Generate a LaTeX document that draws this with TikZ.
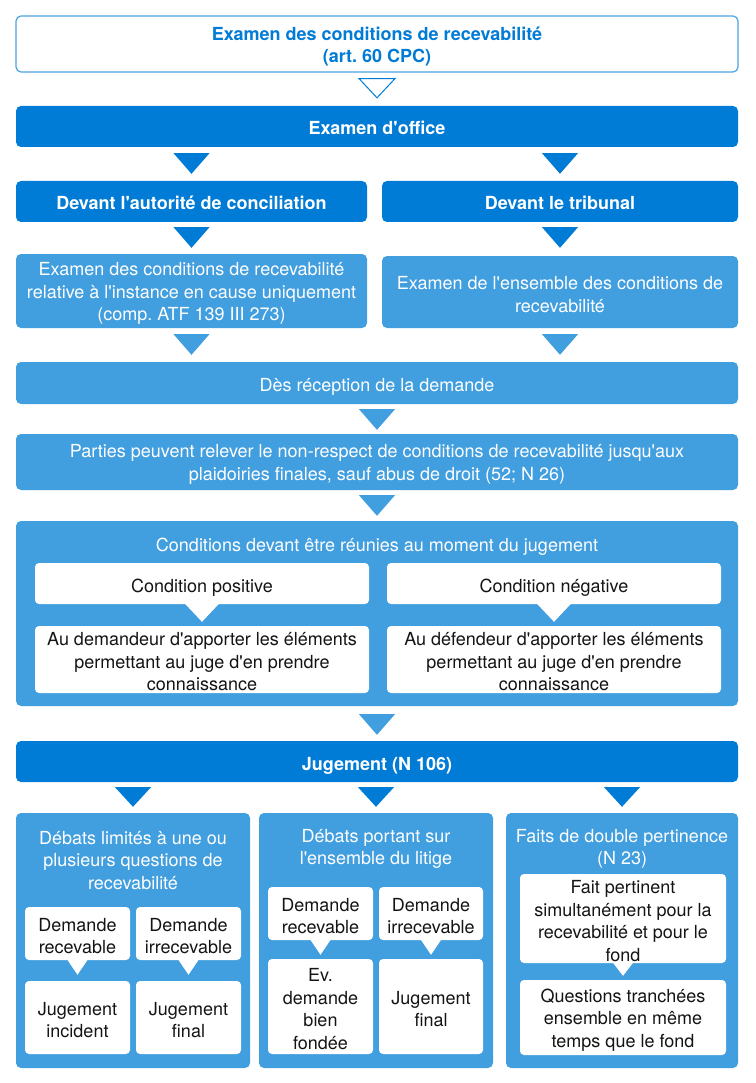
\documentclass[tikz,border=0pt]{standalone}
\usepackage{fontspec}
\setmainfont{TeX Gyre Heros}[Ligatures=TeXOff]
\frenchspacing
\usetikzlibrary{calc}
\definecolor{dkblue}{RGB}{0,123,214}
\definecolor{ltblue}{RGB}{65,158,223}
\definecolor{bdblue}{RGB}{74,163,227}
\definecolor{txtblk}{RGB}{20,20,20}
% style, A, B, X, half width, gap below A, gap above B
\newcommand\dtri[7]{%
  \path[#1] ($(#4.center |- #2.south)+(-#5,#6)$) -- ($(#4.center |- #2.south)+(#5,#6)$) -- ($(#4.center |- #3.north)+(0,-#7)$) -- cycle;}
\begin{document}
\begin{tikzpicture}[x=1pt,y=-1pt,
  box/.style={rounded corners=5pt, inner sep=0pt, align=center, text depth=-4.5pt, execute at begin node={\rule{0pt}{17pt}}, font=\fontsize{18}{22.5}\selectfont},
  topbox/.style={box, fill=white, draw=bdblue, line width=1.2pt, text=dkblue, font=\fontsize{18}{22.5}\selectfont\bfseries},
  dark/.style={box, fill=dkblue, text=white, font=\fontsize{18}{22.5}\selectfont\bfseries},
  light/.style={box, fill=ltblue, text=white},
  wbox/.style={box, fill=white, text=txtblk, rounded corners=4pt},
  lab/.style={inner sep=0pt, align=center, yshift=-2.5pt, font=\fontsize{18}{22.5}\selectfont},
  tlab/.style={lab, text=dkblue, font=\fontsize{18}{22.5}\selectfont\bfseries},
  llab/.style={lab, text=white},
  wlab/.style={lab, text=txtblk},
  ttl/.style={inner sep=0pt, align=center, text=white, font=\fontsize{18}{22.5}\selectfont},
  opentri/.style={fill=white, draw=dkblue, line width=1pt, line join=miter},
  darktri/.style={fill=dkblue},
  lighttri/.style={fill=ltblue},
  whitetri/.style={fill=white}]
\useasboundingbox (0,0) rectangle (755,1083);

\node[topbox, minimum width=722, minimum height=56, label={[tlab]center:{Examen des conditions de recevabilité\\(art. 60 CPC)}}] (top) at (377,44) {};
\node[dark, minimum width=722, minimum height=41] (office) at (377,126.5) {Examen d'office};
\node[dark, minimum width=351, minimum height=41] (conc) at (191.5,201.5) {Devant l'autorité de conciliation};
\node[dark, minimum width=356, minimum height=41] (trib) at (560,201.5) {Devant le tribunal};
\node[light, minimum width=351, minimum height=74, label={[llab]center:{Examen des conditions de recevabilité\\relative à l'instance en cause uniquement\\(comp. ATF 139 III 273)}}] (exA) at (191.5,291) {};
\node[light, minimum width=356, minimum height=72, label={[llab]center:{Examen de l'ensemble des conditions de\\recevabilité}}] (exB) at (560,292) {};
\node[light, minimum width=722, minimum height=42] (des) at (377,383) {Dès réception de la demande};
\node[light, minimum width=722, minimum height=56, label={[llab]center:{Parties peuvent relever le non-respect de conditions de recevabilité jusqu'aux\\plaidoiries finales, sauf abus de droit (52; N 26)}}] (parties) at (377,462) {};
\node[light, minimum width=722, minimum height=185] (cond) at (377,613.5) {};
\node[ttl] (condttl) at (377,546.5) {Conditions devant être réunies au moment du jugement};
\node[wbox, minimum width=334, minimum height=41] (pos) at (202,583.5) {Condition positive};
\node[wbox, minimum width=334, minimum height=41] (neg) at (554,583.5) {Condition négative};
\node[wbox, minimum width=334, minimum height=67, label={[wlab]center:{Au demandeur d'apporter les éléments\\permettant au juge d'en prendre\\connaissance}}] (posT) at (202,659.5) {};
\node[wbox, minimum width=334, minimum height=67, label={[wlab]center:{Au défendeur d'apporter les éléments\\permettant au juge d'en prendre\\connaissance}}] (negT) at (554,659.5) {};
\node[dark, minimum width=722, minimum height=41] (jug) at (377,761.5) {Jugement (N 106)};

\node[light, minimum width=234, minimum height=255] (b1) at (133,940.5) {};
\node[light, minimum width=234, minimum height=255] (b2) at (376,940.5) {};
\node[light, minimum width=232, minimum height=255] (b3) at (622,940.5) {};
\node[ttl] (b1ttl) at (133,860.5) {Débats limités à une ou\\plusieurs questions de\\recevabilité};
\node[ttl] (b2ttl) at (376,849) {Débats portant sur\\l'ensemble du litige};
\node[ttl] (b3ttl) at (622,849) {Faits de double pertinence\\(N 23)};

\node[wbox, minimum width=105, minimum height=53, label={[wlab]center:{Demande\\recevable}}] (r1) at (77.5,933.5) {};
\node[wbox, minimum width=105, minimum height=53, label={[wlab]center:{Demande\\irrecevable}}] (i1) at (188.5,933.5) {};
\node[wbox, minimum width=105, minimum height=73, label={[wlab]center:{Jugement\\incident}}] (j1) at (77.5,1017.5) {};
\node[wbox, minimum width=105, minimum height=73, label={[wlab]center:{Jugement\\final}}] (f1) at (188.5,1017.5) {};
\node[wbox, minimum width=105, minimum height=53, label={[wlab]center:{Demande\\recevable}}] (r2) at (320.5,913.5) {};
\node[wbox, minimum width=104, minimum height=53, label={[wlab]center:{Demande\\irrecevable}}] (i2) at (431,913.5) {};
\node[wbox, minimum width=105, minimum height=95, label={[wlab]center:{Ev.\\demande\\bien\\fondée}}] (e2) at (320.5,1006.5) {};
\node[wbox, minimum width=104, minimum height=95, label={[wlab]center:{Jugement\\final}}] (f2) at (431,1006.5) {};
\node[wbox, minimum width=206, minimum height=89, label={[wlab]center:{Fait pertinent\\simultanément pour la\\recevabilité et pour le\\fond}}] (p3) at (623,918.5) {};
\node[wbox, minimum width=206, minimum height=75, label={[wlab]center:{Questions tranchées\\ensemble en même\\temps que le fond}}] (q3) at (623,1017.5) {};

\dtri{opentri}{top}{office}{top}{18}{6}{8}
\dtri{darktri}{office}{conc}{conc}{18}{6}{7}
\dtri{darktri}{office}{trib}{trib}{18}{6}{7}
\dtri{darktri}{conc}{exA}{conc}{18}{5}{6}
\dtri{darktri}{trib}{exB}{trib}{18}{5}{8}
\dtri{lighttri}{exA}{des}{exA}{18}{6}{7}
\dtri{lighttri}{exB}{des}{exB}{18}{6}{7}
\dtri{lighttri}{des}{parties}{des}{18}{5}{4}
\dtri{lighttri}{parties}{cond}{parties}{18}{5}{5}
\dtri{whitetri}{pos}{posT}{pos}{17.5}{-1}{4}
\dtri{whitetri}{neg}{negT}{neg}{17.5}{-1}{4}
\dtri{lighttri}{cond}{jug}{cond}{18}{8}{6}
\dtri{darktri}{jug}{b1}{b1}{18}{5}{6}
\dtri{darktri}{jug}{b2}{b2}{18}{5}{6}
\dtri{darktri}{jug}{b3}{b3}{18}{5}{6}
\dtri{whitetri}{r1}{j1}{r1}{10.5}{-1}{6}
\dtri{whitetri}{i1}{f1}{i1}{10.5}{-1}{6}
\dtri{whitetri}{r2}{e2}{r2}{10.5}{-1}{4}
\dtri{whitetri}{i2}{f2}{i2}{10.5}{-1}{4}
\dtri{whitetri}{p3}{q3}{p3}{10.5}{-1}{4}
\end{tikzpicture}
\end{document}
